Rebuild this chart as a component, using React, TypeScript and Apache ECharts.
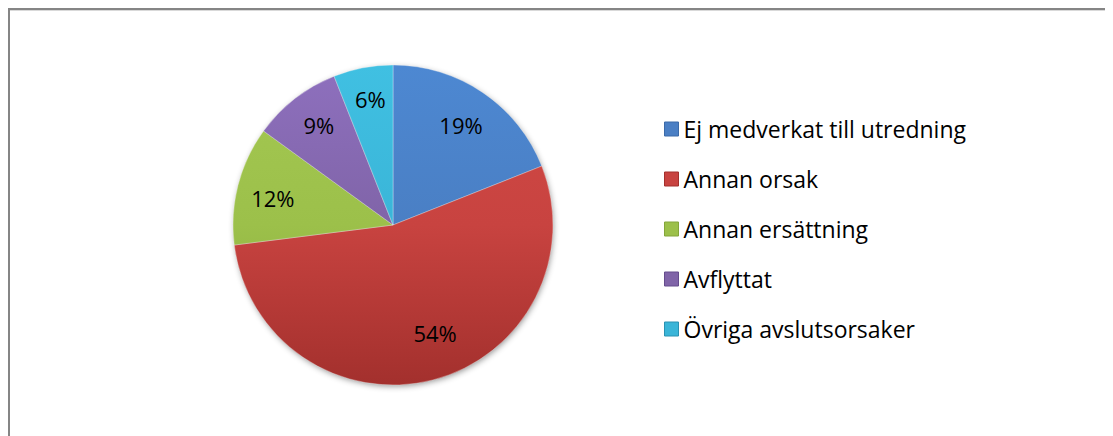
import React, { useEffect, useRef } from "react";
import * as echarts from "echarts";

const categories = [
  "Ej medverkat till utredning",
  "Annan orsak",
  "Annan ersättning",
  "Avflyttat",
  "Övriga avslutsorsaker",
];
const values = [19, 54, 12, 9, 6];
const lights = ["#4D88D2", "#D24A46", "#A4C852", "#8E70BE", "#40C0E2"];
const colors = ["#4A7FC4", "#C84340", "#9CC04A", "#8064A8", "#3AB5D8"];
const darks = ["#3B6AA8", "#A3302D", "#84A53A", "#654C8C", "#2A92B2"];
const labelOffsets = [[0, 0], [12, -9], [-3, 3], [0, -4], [0, -7]];

export default function App() {
  const ref = useRef<HTMLDivElement>(null);
  useEffect(() => {
    if (!ref.current) return;
    const chart = echarts.init(ref.current, undefined, { renderer: "svg" });
    const font = "'Open Sans', sans-serif";
    const cx = 385;
    const cy = 217;
    const R = 160;
    const grad = (i: number) => ({
      type: "linear",
      x: 0,
      y: cy - R,
      x2: 0,
      y2: cy + R,
      global: true,
      colorStops: [
        { offset: 0, color: lights[i] },
        { offset: 0.5, color: colors[i] },
        { offset: 1, color: darks[i] },
      ],
    });
    chart.setOption({
      animation: false,
      graphic: [
        { type: "line", shape: { x1: 0, y1: 1, x2: 1200, y2: 1 }, style: { stroke: "#858585", lineWidth: 2 } },
        { type: "line", shape: { x1: 1, y1: 0, x2: 1, y2: 500 }, style: { stroke: "#858585", lineWidth: 2 } },
        { type: "line", shape: { x1: 2, y1: 2.5, x2: 1200, y2: 2.5 }, style: { stroke: "#d9d9d9", lineWidth: 1 } },
        {
          type: "circle",
          z: -1,
          shape: { cx: cx, cy: cy, r: R - 1 },
          style: { fill: "#888", shadowBlur: 6, shadowOffsetX: 1, shadowOffsetY: 2, shadowColor: "rgba(0,0,0,0.45)" },
        },
      ],
      legend: {
        orient: "vertical",
        left: 651,
        top: 104,
        itemWidth: 14,
        itemHeight: 14,
        itemGap: 26,
        icon: "rect",
        textStyle: { fontFamily: font, fontSize: 23, lineHeight: 24, color: "#000" },
        data: categories.map((name, i) => ({
          name,
          itemStyle: { color: colors[i], borderColor: darks[i], borderWidth: 1 },
        })),
      },
      series: [
        {
          type: "pie",
          center: [cx, cy],
          radius: [0, R],
          startAngle: 90,
          clockwise: true,
          label: { show: false },
          labelLine: { show: false },
          itemStyle: { borderColor: "rgba(255,255,255,0.3)", borderWidth: 1 },
          data: categories.map((name, i) => ({
            name,
            value: values[i],
            itemStyle: { color: grad(i) },
          })),
        },
        {
          type: "pie",
          center: [cx, cy],
          radius: [76, R],
          startAngle: 90,
          clockwise: true,
          silent: true,
          legendHoverLink: false,
          label: {
            show: true,
            position: "inside",
            formatter: (p: any) => p.value + "%",
            fontFamily: font,
            fontSize: 22,
            color: "#000",
          },
          labelLine: { show: false },
          itemStyle: { color: "transparent" },
          data: categories.map((name, i) => ({
            name: name + " ",
            value: values[i],
            label: { offset: labelOffsets[i] },
          })),
        },
      ],
    });
    return () => chart.dispose();
  }, []);
  return <div ref={ref} style={{ width: 1105, height: 428 }} />;
}
